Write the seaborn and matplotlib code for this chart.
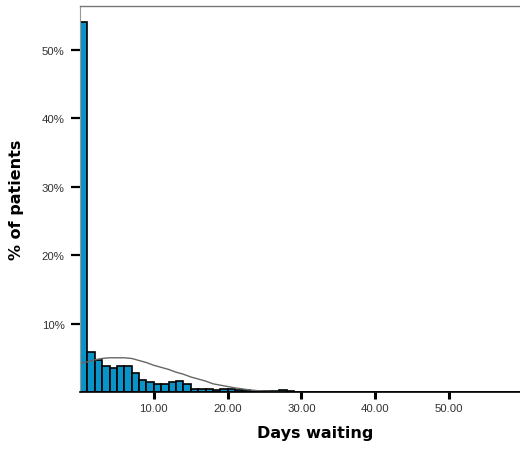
import numpy as np
import pandas as pd
import matplotlib
matplotlib.use("Agg")
import matplotlib.pyplot as plt
import seaborn as sns

# Histogram: percent of patients per 1-day bin (bin start day)
days = list(range(0, 60))
pct = [54.1, 5.9, 4.7, 3.75, 3.5, 3.75, 3.75, 2.77, 1.8, 1.4,
       1.17, 1.17, 1.4, 1.65, 1.2, 0.5, 0.5, 0.5, 0.35, 0.5,
       0.5, 0.35, 0.35, 0.15, 0.15, 0.1, 0.1, 0.35, 0.1, 0.05] + [0.0] * 30

# Normal curve overlay
curve_x = [0, 1, 2, 3, 4, 5, 6, 7, 8, 9, 10, 11, 12, 13, 14, 15, 16, 17, 18, 19,
           20, 21, 22, 23, 24, 25, 26, 27, 28]
curve_y = [4.2, 4.4, 4.7, 4.9, 5.0, 5.0, 5.0, 4.9, 4.6, 4.3, 3.9, 3.6, 3.3, 2.9,
           2.6, 2.2, 1.9, 1.6, 1.2, 1.0, 0.8, 0.6, 0.45, 0.3, 0.2, 0.15, 0.1,
           0.05, 0.0]

xticks = [10, 20, 30, 40, 50]
xtick_labels = ["10.00", "20.00", "30.00", "40.00", "50.00"]
yticks = [10, 20, 30, 40, 50]
ytick_labels = ["10%", "20%", "30%", "40%", "50%"]

sns.set_style("white")
plt.rcParams["font.family"] = ["Liberation Sans", "DejaVu Sans"]

fig = plt.figure(figsize=(5.2, 4.52), dpi=100)
ax = fig.add_axes([80 / 520, 1 - 393 / 452, 440 / 520, 386 / 452])

df = pd.DataFrame({"day": [d + 0.5 for d in days], "pct": pct})
sns.histplot(data=df, x="day", weights="pct", binwidth=1, binrange=(0, 60),
             stat="count", color="#0993c8", alpha=1.0, edgecolor="black",
             linewidth=1.2, ax=ax)

cdf = pd.DataFrame({"x": curve_x, "y": curve_y})
sns.lineplot(data=cdf, x="x", y="y", color="#666666", linewidth=1.0, ax=ax)

ax.set_xlim(0, 59.6)
ax.set_ylim(0, 56.4)

ax.set_xticks(xticks)
ax.set_xticklabels(xtick_labels, fontsize=8.2, color="#333333")
ax.set_yticks(yticks)
ax.set_yticklabels(ytick_labels, fontsize=8.2, color="#333333")
ax.tick_params(axis="x", direction="out", length=5, width=2.2, color="black", pad=3)
ax.tick_params(axis="y", direction="out", length=6.5, width=1.6, color="black", pad=4.5)
ax.tick_params(bottom=True, left=True)

ax.spines["right"].set_visible(False)
ax.spines["top"].set_color("#777777")
ax.spines["top"].set_linewidth(1.0)
ax.spines["left"].set_color("#999999")
ax.spines["left"].set_linewidth(0.8)
ax.spines["bottom"].set_color("black")
ax.spines["bottom"].set_linewidth(1.2)

ax.set_xlabel("Days waiting", fontsize=11.5, fontweight="bold", family="DejaVu Sans", color="black")
ax.set_ylabel("% of patients", fontsize=11.5, fontweight="bold", family="DejaVu Sans", color="black")
ax.xaxis.set_label_coords(0.534, -0.085)
ax.yaxis.set_label_coords(-0.128, 0.5)
ax.grid(False)

fig.savefig("out.png", dpi=100)
